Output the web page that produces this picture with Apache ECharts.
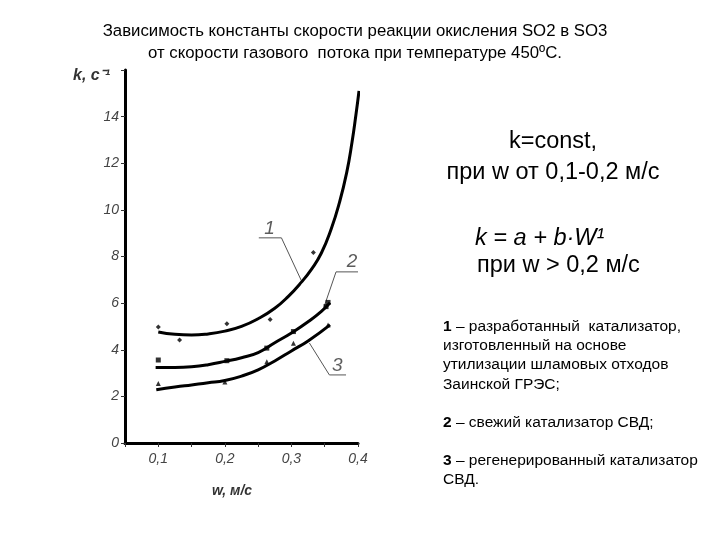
<!DOCTYPE html>
<html>
<head>
<meta charset="utf-8">
<script src="https://cdn.jsdelivr.net/npm/echarts@6/dist/echarts.min.js"></script>
<style>
html,body{margin:0;padding:0;background:#fff;}
#chart{width:720px;height:540px;}
</style>
</head>
<body>
<div id="chart"></div>
<script>
// ---- data ----
const curve1 = [[0.1,4.76],[0.125,4.66],[0.15,4.63],[0.175,4.68],[0.2,4.8],[0.225,5.0],[0.25,5.33],[0.275,5.78],[0.295,6.28],[0.315,6.9],[0.33,7.45],[0.345,8.15],[0.36,9.2],[0.372,10.3],[0.383,11.6],[0.391,12.9],[0.397,14.1],[0.4015,15.1]];
const points1 = [[0.1,4.98],[0.132,4.42],[0.203,5.12],[0.268,5.3],[0.333,8.17],[0.4015,15.15]];
const curve2 = [[0.096,3.24],[0.125,3.24],[0.15,3.27],[0.175,3.36],[0.2,3.5],[0.225,3.66],[0.25,3.88],[0.275,4.3],[0.3,4.72],[0.325,5.2],[0.345,5.65],[0.358,6.02]];
const points2 = [[0.1,3.56],[0.203,3.53],[0.263,4.07],[0.303,4.78],[0.352,5.85],[0.355,6.03]];
const curve3 = [[0.097,2.28],[0.125,2.4],[0.15,2.49],[0.175,2.58],[0.2,2.68],[0.225,2.87],[0.25,3.14],[0.275,3.52],[0.3,3.95],[0.325,4.38],[0.358,5.07]];
const points3 = [[0.1,2.55],[0.2,2.62],[0.263,3.49],[0.303,4.28],[0.355,5.06]];
const leader1 = [[0.251,8.8],[0.285,8.8],[0.3155,6.93]];
const leader2 = [[0.4,7.34],[0.367,7.34],[0.349,5.84]];
const leader3 = [[0.382,2.92],[0.357,2.92],[0.327,4.29]];
const curveLabels = [{name:'1', value:[0.267,9.2]},{name:'2', value:[0.391,7.77]},{name:'3', value:[0.369,3.3]}];

const titleLines = ['Зависимость константы скорости реакции окисления SO2 в SO3','от скорости газового  потока при температуре 450ºС.'];
const noteLines = ['k=const,','при w от 0,1-0,2 м/с'];
const formulaLines = ['k = a + b·W¹','при w > 0,2 м/с'];
const legendLines = [
  ['1',' – разработанный  катализатор,'],
  ['','изготовленный на основе'],
  ['','утилизации шламовых отходов'],
  ['','Заинской ГРЭС;'],
  ['',''],
  ['2',' – свежий катализатор СВД;'],
  ['',''],
  ['3',' – регенерированный катализатор'],
  ['','СВД.']
];

const FONT = 'Liberation Sans, Arial, sans-serif';
const chart = echarts.init(document.getElementById('chart'), null, {renderer:'canvas'});

const graphics = [];
titleLines.forEach((t,i)=>graphics.push({type:'text', style:{text:t, x:355, y:31+i*22, align:'center', verticalAlign:'middle', font:'16.8px '+FONT, fill:'#000'}}));
noteLines.forEach((t,i)=>graphics.push({type:'text', style:{text:t, x:553, y:142+i*31, align:'center', verticalAlign:'middle', font:'23.5px '+FONT, fill:'#000'}}));
graphics.push({type:'text', style:{text:formulaLines[0], x:475, y:238, align:'left', verticalAlign:'middle', font:'italic 23.5px '+FONT, fill:'#000'}});
graphics.push({type:'text', style:{text:formulaLines[1], x:477, y:266, align:'left', verticalAlign:'middle', font:'23.5px '+FONT, fill:'#000'}});
legendLines.forEach((l,i)=>{
  if(!l[0] && !l[1]) return;
  graphics.push({type:'text', style:{
    text: (l[0]?'{b|'+l[0]+'}':'') + '{n|'+l[1]+'}',
    x:443, y:327+i*19.1, align:'left', verticalAlign:'middle',
    rich:{b:{font:'bold 15.5px '+FONT, fill:'#000'}, n:{font:'15.5px '+FONT, fill:'#000'}}
  }});
});
graphics.push({type:'text', style:{text:'k, c⁻¹', x:73, y:76, align:'left', verticalAlign:'middle', font:'italic bold 16px '+FONT, fill:'#333'}});
graphics.push({type:'text', style:{text:'w, м/с', x:232, y:491, align:'center', verticalAlign:'middle', font:'italic bold 14px '+FONT, fill:'#333'}});

const curveSeries = (data)=>({type:'line', data, smooth:0.5, symbol:'none', lineStyle:{color:'#000', width:3}, silent:true, z:3});
const pointSeries = (data, symbol, size)=>({type:'scatter', data, symbol, symbolSize:size, itemStyle:{color:'#000'}, silent:true, z:4});
const leaderSeries = (data)=>({type:'line', data, symbol:'none', lineStyle:{color:'#555', width:1}, silent:true, z:2});

chart.setOption({
  animation:false,
  backgroundColor:'#fff',
  grid:{left:125, right:362, top:70, bottom:97, containLabel:false},
  xAxis:{type:'value', min:0.05, max:0.4, interval:0.05,
    axisLine:{show:true, lineStyle:{color:'#000', width:3}},
    axisTick:{show:true, length:4, lineStyle:{color:'#333', width:1}},
    splitLine:{show:false},
    axisLabel:{margin:9, color:'#444', fontStyle:'italic', fontSize:14, fontFamily:FONT,
      formatter:v=>{const r=Math.round(v*100); return r%10===0 ? (r/100).toFixed(1).replace('.',',') : '';}}
  },
  yAxis:{type:'value', min:0, max:16, interval:2,
    axisLine:{show:true, lineStyle:{color:'#000', width:3}},
    axisTick:{show:true, length:4, lineStyle:{color:'#333', width:1}},
    splitLine:{show:false},
    axisLabel:{margin:6, color:'#444', fontStyle:'italic', fontSize:14, fontFamily:FONT,
      formatter:v=>v>=16?'':String(v)}
  },
  graphic:graphics,
  series:[
    curveSeries(curve1), curveSeries(curve2), curveSeries(curve3),
    pointSeries(points1,'diamond',5), pointSeries(points2,'rect',5), pointSeries(points3,'triangle',5),
    leaderSeries(leader1), leaderSeries(leader2), leaderSeries(leader3),
    {type:'scatter', data:curveLabels, symbolSize:1, itemStyle:{color:'rgba(0,0,0,0)'}, silent:true,
     label:{show:true, position:'inside', formatter:p=>p.name, fontSize:19, fontStyle:'italic', color:'#333', fontFamily:FONT}}
  ]
});
</script>
</body>
</html>
